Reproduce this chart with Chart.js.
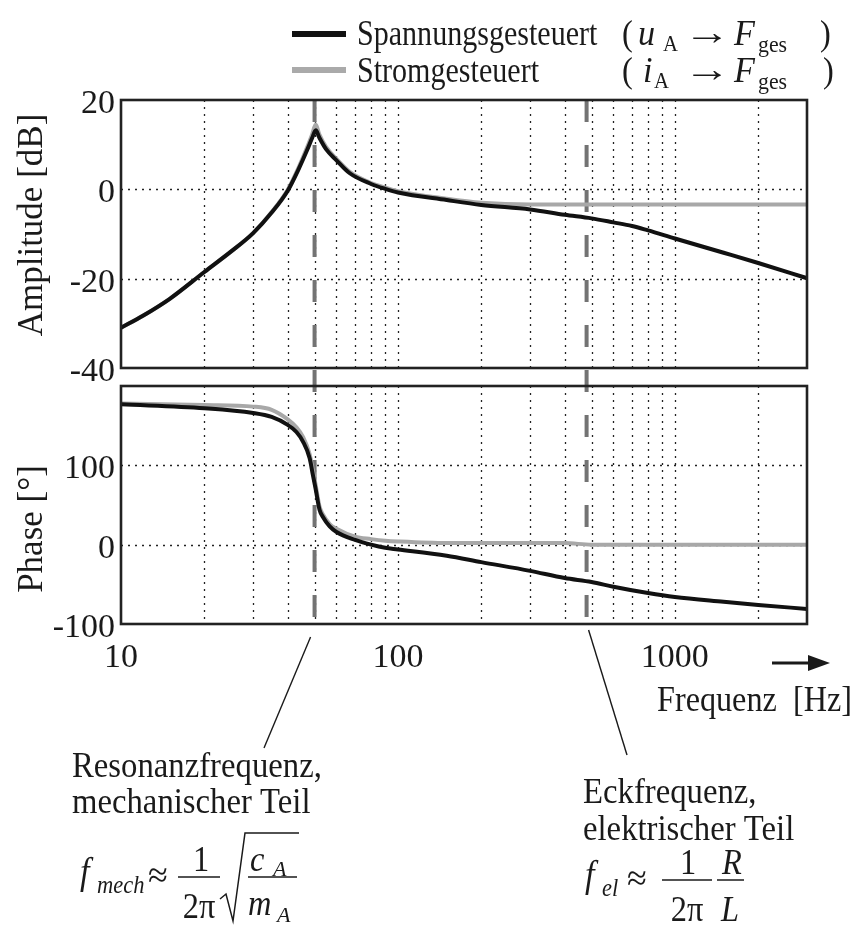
<!DOCTYPE html>
<html>
<head>
<meta charset="utf-8">
<script src="https://cdn.jsdelivr.net/npm/chart.js@4.4.1/dist/chart.umd.min.js"></script>
<style>
  html, body { margin: 0; padding: 0; background: #fff; }
</style>
</head>
<body>
<canvas id="bode" width="855" height="925"></canvas>
<script>
// frequency axis (Hz)
const xTickValues = [10, 100, 1000];
const xGridValues = [20, 30, 40, 50, 60, 70, 80, 90, 100, 200, 300, 400, 500, 600, 700, 800, 900, 1000, 2000];
const ampTicks = [-40, -20, 0, 20];
const phaseTicks = [-100, 0, 100];

// amplitude [dB]
const ampFreq = [10, 12, 15, 20, 25, 30, 35, 40, 44, 47, 49, 50.5, 52, 55, 60, 67, 80, 90, 100, 150, 200, 300, 400, 500, 600, 700, 800, 1000, 1500, 2000, 3000];
const ampVoltage = [-31, -28.3, -24.5, -18.5, -13.9, -9.8, -5.2, -0.3, 4.8, 8.8, 11.5, 13.2, 11.6, 9.0, 6.5, 3.6, 1.2, 0.1, -0.7, -2.4, -3.5, -4.5, -5.7, -6.5, -7.4, -8.2, -9.2, -11, -14.2, -16.5, -19.9];
const ampCurrent = [-31, -28.3, -24.5, -18.5, -13.9, -9.8, -5.1, -0.1, 5.2, 9.4, 12.3, 14.5, 12.3, 9.5, 6.8, 3.9, 1.4, 0.4, -0.4, -2.1, -3.0, -3.4, -3.4, -3.4, -3.4, -3.4, -3.4, -3.4, -3.4, -3.4, -3.4];

// phase [°]
const phaseFreq = [10, 20, 30, 35, 40, 43, 45.4, 48, 49.3, 50.4, 52.1, 53.6, 56.7, 60, 70, 80, 90, 100, 150, 200, 300, 400, 500, 600, 800, 1000, 1500, 2000, 3000];
const phaseVoltage = [177, 172, 166, 161, 151, 142, 130, 109, 88, 71, 44, 35, 23, 16, 6, 0, -4, -6, -14, -22, -33, -42, -47, -53, -61, -66, -72, -76, -81];
const phaseCurrent = [178, 176, 174, 170, 158, 148, 136, 114, 94, 76, 48, 38, 26, 20, 10, 7, 5, 4, 2, 2, 2, 2, 0, 0, 0, 0, 0, 0, 0];

// resonance (mechanical) and corner (electrical) frequency
const markerFreqs = [50, 480];

const FONT = '"Liberation Serif", "Times New Roman", serif';
const INK = '#1a1a1a';

const toPoints = (xs, ys) => xs.map((f, i) => ({ x: f, y: ys[i] }));

function txt(ctx, s, x, y, size, opts = {}) {
    ctx.save();
    ctx.font = `${opts.italic ? 'italic ' : ''}${size}px ${FONT}`;
    ctx.fillStyle = INK;
    ctx.textAlign = opts.align || 'left';
    ctx.textBaseline = 'alphabetic';
    ctx.translate(x, y);
    ctx.scale(opts.sx || 1, 1);
    ctx.fillText(s, 0, 0);
    ctx.restore();
}

function seg(ctx, x1, y1, x2, y2, w) {
    ctx.beginPath();
    ctx.lineWidth = w;
    ctx.moveTo(x1, y1);
    ctx.lineTo(x2, y2);
    ctx.stroke();
}

const bodeDecor = {
    id: 'bodeDecor',
    beforeDatasetsDraw(chart) {
        const { ctx } = chart;
        const x = chart.scales.x;
        const panels = [chart.scales.yA, chart.scales.yP];

        ctx.save();
        ctx.strokeStyle = '#222';
        ctx.setLineDash([2, 5]);
        panels.forEach(p => {
            xGridValues.forEach(f => {
                const px = Math.round(x.getPixelForValue(f)) + 0.5;
                seg(ctx, px, p.top, px, p.bottom, 1.3);
            });
            p.ticks.forEach(t => {
                if (t.value === p.min || t.value === p.max) return;
                const py = Math.round(p.getPixelForValue(t.value)) + 0.5;
                seg(ctx, x.left, py, x.right, py, 1.3);
            });
        });

        // dashed marker lines across both panels
        ctx.strokeStyle = '#737373';
        ctx.setLineDash([22, 23]);
        markerFreqs.forEach(f => {
            const px = x.getPixelForValue(f);
            seg(ctx, px, chart.scales.yA.top, px, chart.scales.yP.bottom - 4, 4);
        });
        ctx.restore();
    },
    afterDatasetsDraw(chart) {
        const { ctx } = chart;
        const x = chart.scales.x;
        ctx.save();
        ctx.strokeStyle = '#222';
        ctx.lineWidth = 2.6;
        [chart.scales.yA, chart.scales.yP].forEach(p => {
            ctx.strokeRect(x.left, p.top, x.right - x.left, p.bottom - p.top);
        });
        ctx.restore();
    },
    afterDraw(chart) {
        const { ctx } = chart;
        const x = chart.scales.x;
        const yP = chart.scales.yP;
        ctx.save();
        ctx.strokeStyle = INK;
        ctx.fillStyle = INK;

        // axis titles
        [['Amplitude [dB]', 225], ['Phase [°]', 529]].forEach(([s, cy]) => {
            ctx.save();
            ctx.translate(42, cy);
            ctx.rotate(-Math.PI / 2);
            ctx.font = `35px ${FONT}`;
            ctx.textAlign = 'center';
            ctx.fillText(s, 0, 0);
            ctx.restore();
        });

        // legend
        ctx.lineCap = 'butt';
        ctx.strokeStyle = '#111';
        seg(ctx, 292, 34, 346, 34, 6);
        ctx.strokeStyle = '#aaaaaa';
        seg(ctx, 292, 70, 346, 70, 6);
        ctx.strokeStyle = INK;
        const rows = [
            { label: 'Spannungsgesteuert', sym: 'u', symX: 638, subX: 663, close: 820, base: 45 },
            { label: 'Stromgesteuert', sym: 'i', symX: 643, subX: 654, close: 823, base: 82 }
        ];
        rows.forEach(r => {
            txt(ctx, r.label, 357, r.base, 36, { sx: 0.835 });
            txt(ctx, '(', 622, r.base, 36, { sx: 0.9 });
            txt(ctx, r.sym, r.symX, r.base, 36, { italic: true, sx: 0.95 });
            txt(ctx, 'A', r.subX, r.base + 6, 23, { sx: 0.9 });
            txt(ctx, '\u2192', 684, r.base - 1, 36, { sx: 1.3 });
            txt(ctx, 'F', 734, r.base, 36, { italic: true, sx: 0.95 });
            txt(ctx, 'ges', 758, r.base + 7, 23, { sx: 0.95 });
            txt(ctx, ')', r.close, r.base, 36, { sx: 0.9 });
        });

        // frequency axis label with arrow
        seg(ctx, 772, 663, 812, 663, 3);
        ctx.beginPath();
        ctx.moveTo(830, 663);
        ctx.lineTo(808, 655);
        ctx.lineTo(808, 671);
        ctx.closePath();
        ctx.fill();
        txt(ctx, 'Frequenz  [Hz]', 657, 711, 35, { sx: 0.92 });

        // leader lines from the marker lines to the notes
        const mx1 = x.getPixelForValue(markerFreqs[0]);
        const mx2 = x.getPixelForValue(markerFreqs[1]);
        seg(ctx, mx1 - 4, yP.bottom + 13, 264, 748, 1.4);
        seg(ctx, mx2 + 2, yP.bottom + 6, 627, 755, 1.4);

        // mechanical resonance note
        txt(ctx, 'Resonanzfrequenz,', 72, 777, 35, { sx: 0.935 });
        txt(ctx, 'mechanischer Teil', 72, 813, 35, { sx: 0.935 });
        txt(ctx, 'f', 80, 884, 38, { italic: true, sx: 0.9 });
        txt(ctx, 'mech', 97, 893, 25, { italic: true, sx: 0.9 });
        txt(ctx, '\u2248', 148, 887, 36);
        seg(ctx, 178, 877, 220, 877, 1.5);
        txt(ctx, '1', 201, 871, 36, { align: 'center', sx: 0.9 });
        txt(ctx, '2\u03c0', 199, 918, 36, { align: 'center', sx: 0.9 });
        ctx.beginPath();
        ctx.lineWidth = 1.5;
        ctx.moveTo(220, 899);
        ctx.lineTo(226, 894);
        ctx.lineTo(233, 921);
        ctx.lineTo(245, 833);
        ctx.lineTo(299, 833);
        ctx.stroke();
        seg(ctx, 248, 877, 297, 877, 1.5);
        txt(ctx, 'c', 250, 871, 36, { italic: true, sx: 0.9 });
        txt(ctx, 'A', 273, 876, 22, { italic: true });
        txt(ctx, 'm', 248, 915, 36, { italic: true, sx: 0.9 });
        txt(ctx, 'A', 277, 922, 22, { italic: true });

        // electrical corner note
        txt(ctx, 'Eckfrequenz,', 583, 803, 35, { sx: 0.935 });
        txt(ctx, 'elektrischer Teil', 583, 840, 35, { sx: 0.935 });
        txt(ctx, 'f', 585, 887, 38, { italic: true, sx: 0.9 });
        txt(ctx, 'el', 602, 896, 25, { italic: true, sx: 0.9 });
        txt(ctx, '\u2248', 627, 890, 36);
        seg(ctx, 662, 880, 712, 880, 1.5);
        txt(ctx, '1', 688, 874, 36, { align: 'center', sx: 0.9 });
        txt(ctx, '2\u03c0', 687, 921, 36, { align: 'center', sx: 0.9 });
        seg(ctx, 717, 880, 744, 880, 1.5);
        txt(ctx, 'R', 732, 874, 36, { italic: true, align: 'center', sx: 0.9 });
        txt(ctx, 'L', 730, 921, 36, { italic: true, align: 'center', sx: 0.9 });

        ctx.restore();
    }
};

const tickFont = { family: FONT, size: 34 };
const lineStyle = { pointRadius: 0, borderWidth: 4, cubicInterpolationMode: 'monotone', fill: false };

new Chart(document.getElementById('bode'), {
    type: 'line',
    data: {
        datasets: [
            { label: 'Spannungsgesteuert', data: toPoints(ampFreq, ampVoltage), yAxisID: 'yA', borderColor: '#111', ...lineStyle },
            { label: 'Spannungsgesteuert (Phase)', data: toPoints(phaseFreq, phaseVoltage), yAxisID: 'yP', borderColor: '#111', ...lineStyle },
            { label: 'Stromgesteuert', data: toPoints(ampFreq, ampCurrent), yAxisID: 'yA', borderColor: '#a8a8a8', ...lineStyle },
            { label: 'Stromgesteuert (Phase)', data: toPoints(phaseFreq, phaseCurrent), yAxisID: 'yP', borderColor: '#a8a8a8', ...lineStyle }
        ]
    },
    options: {
        responsive: false,
        animation: false,
        layout: { padding: { top: 100, right: 48, bottom: 241, left: 0 } },
        plugins: { legend: { display: false }, tooltip: { enabled: false } },
        scales: {
            x: {
                type: 'logarithmic',
                position: 'bottom',
                min: 10,
                max: 3000,
                grid: { display: false },
                border: { display: false },
                afterBuildTicks: s => { s.ticks = xTickValues.map(v => ({ value: v })); },
                afterFit: s => { s.height = 60; },
                ticks: { font: tickFont, color: INK, padding: 6, autoSkip: false, maxRotation: 0, callback: v => String(v) }
            },
            // left axes are stacked in reverse order: yA ends up on top
            yP: {
                type: 'linear',
                position: 'left',
                stack: 'bode',
                stackWeight: 238,
                min: -100,
                max: 200,
                grid: { display: false },
                border: { display: false },
                afterBuildTicks: s => { s.ticks = phaseTicks.map(v => ({ value: v })); },
                afterFit: s => { s.width = 121; },
                ticks: { font: tickFont, color: INK, padding: -2, labelOffset: 4 }
            },
            yG: {
                type: 'linear',
                position: 'left',
                stack: 'bode',
                stackWeight: 18,
                display: true,
                grid: { display: false },
                border: { display: false },
                ticks: { display: false },
                afterFit: s => { s.width = 121; }
            },
            yA: {
                type: 'linear',
                position: 'left',
                stack: 'bode',
                stackWeight: 268,
                min: -40,
                max: 20,
                grid: { display: false },
                border: { display: false },
                afterBuildTicks: s => { s.ticks = ampTicks.map(v => ({ value: v })); },
                afterFit: s => { s.width = 121; },
                ticks: { font: tickFont, color: INK, padding: -2, labelOffset: 4 }
            }
        }
    },
    plugins: [bodeDecor]
});
</script>
</body>
</html>
